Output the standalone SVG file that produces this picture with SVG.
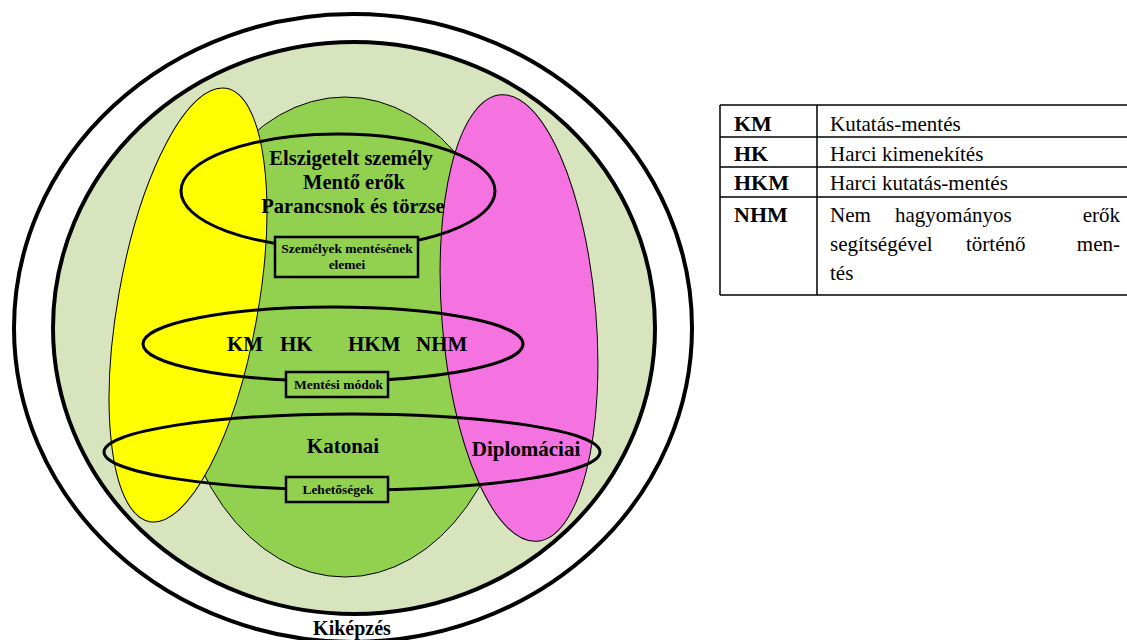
<svg xmlns="http://www.w3.org/2000/svg" width="1127" height="640" viewBox="0 0 1127 640">
<style>
.b{font-family:"Liberation Serif","DejaVu Serif",serif;font-weight:bold;fill:#000}
.r{font-family:"Liberation Serif","DejaVu Serif",serif;font-weight:normal;fill:#000}
.ring{fill:none;stroke:#000;stroke-width:3}
.box{fill:#92D050;stroke:#000;stroke-width:2.5}
.set{stroke:#000;stroke-width:1}
.grid{stroke:#000;stroke-width:1.5;fill:none}
</style>
<rect width="1127" height="640" fill="#fff"/>
<g id="kikepzes">
<ellipse cx="353" cy="328" rx="339" ry="314" fill="#fff" stroke="#000" stroke-width="4"/>
<ellipse cx="354" cy="328" rx="301" ry="286" fill="#D7E4BD" stroke="#000" stroke-width="4"/>
<text class="b" x="352" y="635" font-size="20" text-anchor="middle">Kiképzés</text>
</g>
<g id="katonai-set">
<ellipse class="set" cx="345" cy="337" rx="172" ry="240" fill="#92D050"/>
</g>
<g id="yellow-set">
<ellipse class="set" cx="188" cy="305" rx="70" ry="220" fill="#FFFF00" transform="rotate(10 188 305)"/>
</g>
<g id="diplomaciai-set">
<ellipse class="set" cx="519" cy="318" rx="77" ry="224" fill="#F573E1" transform="rotate(-4.7 519 318)"/>
</g>
<g id="ring-elemek">
<ellipse class="ring" cx="338" cy="191" rx="157" ry="57"/>
<text class="b" x="351" y="165" font-size="20.5" text-anchor="middle">Elszigetelt személy</text>
<text class="b" x="354" y="189" font-size="20.5" text-anchor="middle">Mentő erők</text>
<text class="b" x="353" y="213" font-size="20.5" text-anchor="middle">Parancsnok és törzse</text>
</g>
<g id="box-elemek">
<rect class="box" x="275" y="237" width="143" height="40"/>
<text class="b" x="347" y="253" font-size="13.5" text-anchor="middle">Személyek mentésének</text>
<text class="b" x="347" y="269" font-size="13.5" text-anchor="middle">elemei</text>
</g>
<g id="ring-modok">
<ellipse class="ring" cx="333" cy="344" rx="190" ry="37"/>
<text class="b" x="227" y="351" font-size="21">KM</text>
<text class="b" x="280" y="351" font-size="21">HK</text>
<text class="b" x="348" y="351" font-size="21">HKM</text>
<text class="b" x="416" y="351" font-size="21">NHM</text>
</g>
<g id="box-modok">
<rect class="box" x="286" y="372" width="102" height="25"/>
<text class="b" x="338.5" y="389" font-size="13.5" text-anchor="middle">Mentési módok</text>
</g>
<g id="ring-lehetosegek">
<ellipse class="ring" cx="352" cy="452" rx="248" ry="38"/>
<text class="b" x="343" y="453" font-size="21" text-anchor="middle">Katonai</text>
<text class="b" x="526" y="456" font-size="21" text-anchor="middle">Diplomáciai</text>
</g>
<g id="box-lehetosegek">
<rect class="box" x="286" y="477" width="102" height="25"/>
<text class="b" x="338" y="494" font-size="13.5" text-anchor="middle">Lehetőségek</text>
</g>
<g id="connectors"></g>
<g id="legend">
<path class="grid" d="M720 105H1130M720 137H1130M720 167H1130M720 197H1130M720 295H1130M720 105V295M817 105V295"/>
<text class="b" x="734" y="131" font-size="22">KM</text>
<text class="r" x="830" y="131" font-size="21">Kutatás-mentés</text>
<text class="b" x="734" y="161" font-size="22">HK</text>
<text class="r" x="830" y="161" font-size="21">Harci kimenekítés</text>
<text class="b" x="734" y="190" font-size="22">HKM</text>
<text class="r" x="830" y="190" font-size="21">Harci kutatás-mentés</text>
<text class="b" x="734" y="222" font-size="22">NHM</text>
<text class="r" x="830" y="222" font-size="21">Nem</text>
<text class="r" x="895" y="222" font-size="21">hagyományos</text>
<text class="r" x="1120" y="222" font-size="21" text-anchor="end">erők</text>
<text class="r" x="830" y="251" font-size="21">segítségével</text>
<text class="r" x="966" y="251" font-size="21">történő</text>
<text class="r" x="1120" y="251" font-size="21" text-anchor="end">men-</text>
<text class="r" x="830" y="280" font-size="21">tés</text>
</g>
</svg>
